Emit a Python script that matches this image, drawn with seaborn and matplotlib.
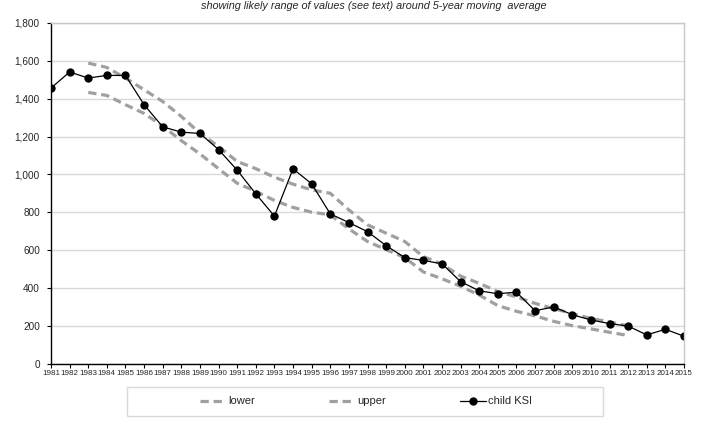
import numpy as np
import pandas as pd
from matplotlib import pyplot as plt
from matplotlib.patches import Rectangle
from matplotlib.ticker import FuncFormatter
import seaborn as sns

# child KSI casualties per year, with band around 5-year moving average
years = list(range(1981, 2016))
child_ksi = [1456, 1541, 1509, 1523, 1523, 1368, 1251, 1223, 1216, 1131,
             1022, 897, 779, 1029, 950, 791, 745, 697, 623, 560,
             545, 527, 433, 384, 369, 377, 279, 299, 258, 230,
             211, 198, 151, 181, 144]

band_years = list(range(1983, 2013))
upper = [1588, 1565, 1509, 1447, 1385, 1306, 1218, 1147, 1068, 1030,
         985, 948, 918, 900, 812, 733, 689, 645, 565, 525,
         462, 424, 380, 352, 318, 290, 264, 238, 220, 198]
lower = [1433, 1417, 1368, 1322, 1255, 1178, 1108, 1030, 953, 910,
         862, 825, 800, 786, 712, 645, 602, 560, 484, 448,
         408, 362, 306, 276, 252, 223, 200, 183, 165, 148]

title = "showing likely range of values (see text) around 5-year moving  average"

sns.set_style("white")
plt.rcParams["font.family"] = ["Liberation Sans", "DejaVu Sans"]

fig = plt.figure(figsize=[7.2, 4.37], dpi=100)
ax = fig.add_axes([51 / 720, 1 - 363.5 / 437, 633 / 720, 340.5 / 437])

grey = "#a0a0a0"
dash = (0, (2.6, 1.5))
sns.lineplot(x=band_years, y=lower, ax=ax, color=grey, lw=2.3,
             linestyle=dash, label="lower")
sns.lineplot(x=band_years, y=upper, ax=ax, color=grey, lw=2.3,
             linestyle=dash, label="upper")
sns.lineplot(x=years, y=child_ksi, ax=ax, color="black", lw=0.9,
             marker="o", markersize=6, markeredgewidth=0, label="child KSI")

ax.set_xlim(1981, 2015)
ax.set_ylim(0, 1800)
ax.set_xticks(years)
ax.set_xticklabels([str(y) for y in years], fontsize=5.8)
ax.set_yticks(range(0, 1801, 200))
ax.yaxis.set_major_formatter(FuncFormatter(lambda v, p: f"{int(v):,}"))
ax.tick_params(axis="y", labelsize=7.2, length=3, width=0.8, pad=5,
               left=True, color="black")
ax.tick_params(axis="x", length=3, width=0.8, pad=2, bottom=True,
               color="black")
ax.grid(axis="y", color="#d9d9d9", lw=1)
ax.set_axisbelow(True)
for side in ["left", "bottom"]:
    ax.spines[side].set_color("black")
    ax.spines[side].set_linewidth(1)
for side in ["top", "right"]:
    ax.spines[side].set_color("#c8c8c8")
    ax.spines[side].set_linewidth(1)
ax.set_xlabel("")
ax.set_ylabel("")

ax.legend_.remove()
handles, labels = ax.get_legend_handles_labels()
fig.legend(handles, labels, loc="center", bbox_to_anchor=(366 / 720, 1 - 401.5 / 437),
           ncol=3, frameon=False, fontsize=8, handlelength=2.3,
           handletextpad=0.2, columnspacing=6.7)
fig.patches.append(Rectangle((127 / 720, 1 - 416 / 437), 476 / 720, 29 / 437,
                             transform=fig.transFigure, fill=False,
                             edgecolor="#d9d9d9", lw=1))

fig.text(374 / 720, 1 - 6 / 437, title, ha="center", va="center",
         fontsize=7.8, style="italic")

fig.savefig("out.png", dpi=100)
